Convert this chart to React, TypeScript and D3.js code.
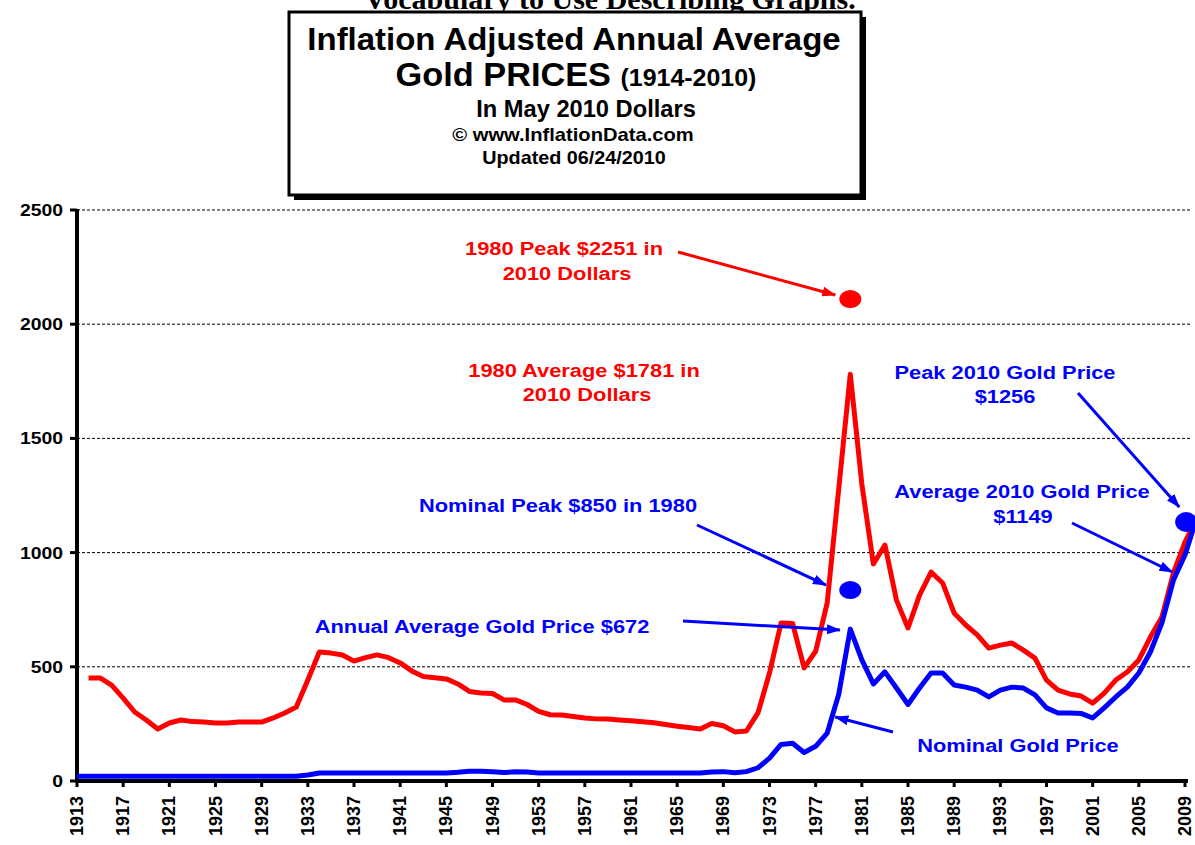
import React from 'react';
import * as d3 from 'd3';

// ── Data ─────────────────────────────────────────────────────────────
// Inflation adjusted annual average (May 2010 dollars), 1914–2010
const realYears = d3.range(1914, 2011);
const realValues = [
  451, 451, 420, 363, 302, 267, 228, 254, 267, 260, // 1914-1923
  258, 254, 254, 258, 258, 258, 276, 298, 324, 442, // 1924-1933
  565, 560, 552, 525, 540, 552, 540, 517, 482, 458, // 1934-1943
  452, 447, 425, 392, 385, 383, 355, 355, 335, 305, // 1944-1953
  290, 289, 282, 276, 272, 271, 267, 264, 259, 255, // 1954-1963
  247, 240, 234, 228, 252, 242, 215, 219, 298, 473, // 1964-1973
  692, 690, 495, 568, 780, 1280, 1781, 1300, 950, 1033, // 1974-1983
  792, 670, 814, 915, 867, 735, 683, 640, 582, 595, // 1984-1993
  604, 573, 538, 442, 398, 381, 372, 341, 385, 442, // 1994-2003
  477, 530, 630, 718, 911, 1046, 1149,              // 2004-2010
];

// Nominal annual average gold price, 1913–2010
const nominalYears = d3.range(1913, 2011);
const nominalValues = [
  20.67, 20.67, 20.67, 20.67, 20.67, 20.67, 20.67, 20.67, 20.67, 20.67, // 1913-1922
  20.67, 20.67, 20.67, 20.67, 20.67, 20.67, 20.67, 20.67, 20.67, 20.67, // 1923-1932
  26, 35, 35, 35, 35, 35, 35, 35, 35, 35,                               // 1933-1942
  35, 35, 35, 38, 43, 43, 40, 37, 40, 39,                               // 1943-1952
  35, 35, 35, 35, 35, 35, 35, 35, 35, 35,                               // 1953-1962
  35, 35, 35, 35, 35, 39, 41, 36, 41, 58,                               // 1963-1972
  100, 160, 165, 125, 152, 210, 380, 665, 530, 425,                     // 1973-1982
  478, 407, 335, 407, 473, 473, 420, 411, 398, 368,                     // 1983-1992
  398, 411, 407, 377, 320, 298, 298, 296, 276, 320,                     // 1993-2002
  368, 411, 473, 565, 692, 880, 990, 1149,                              // 2003-2010
];

const yTicks = [0, 500, 1000, 1500, 2000, 2500];
const xTickYears = d3.range(1913, 2010, 4);

// annotation markers [year, value]
const realPeakDot: [number, number] = [1980, 2110];
const nominalPeakDot: [number, number] = [1980, 836];
const peak2010Dot: [number, number] = [2009.1, 1134];

// arrow tips in data space [year, value]
const arrowTips = {
  realPeak: [1978.7, 2128],
  nominalPeak: [1977.9, 858],
  annualAvg: [1979.1, 661],
  nominalLine: [1978.7, 280],
  peak2010: [2008.5, 1200],
  avg2010: [2007.9, 915],
};

const FONT = '"Liberation Sans", Arial, Helvetica, sans-serif';
const RED = '#ff0000';
const BLUE = '#0000ff';

// horizontally stretched bold label, like the original picture
const Label = ({ x, y, text, color = '#000', size = 19, anchor = 'middle', sx = 1.15 }: any) => (
  <g transform={`translate(${x},${y}) scale(${sx},1)`}>
    <text textAnchor={anchor} fontFamily={FONT} fontWeight="bold" fontSize={size} fill={color}>
      {text}
    </text>
  </g>
);

export default function App() {
  const width = 1195;
  const height = 845;

  const x = d3.scaleLinear().domain([1913, 2009]).range([77, 1185]);
  const y = d3.scaleLinear().domain([0, 2500]).range([781, 210]);

  const line = d3
    .line<[number, number]>()
    .x((d) => x(d[0]))
    .y((d) => y(d[1]));

  const realPath = line(realYears.map((yr, i) => [yr, realValues[i]]));
  const nominalPath = line(nominalYears.map((yr, i) => [yr, nominalValues[i]]));

  const arrow = (from: [number, number], tip: number[], color: string, id: string) => (
    <line
      x1={from[0]}
      y1={from[1]}
      x2={x(tip[0])}
      y2={y(tip[1])}
      stroke={color}
      strokeWidth={3}
      markerEnd={`url(#${id})`}
    />
  );

  return (
    <svg
      width={width}
      height={height}
      style={{ position: 'absolute', left: 0, top: 0, background: '#fff' }}
    >
      <defs>
        {[
          ['headRed', RED],
          ['headBlue', BLUE],
        ].map(([id, c]) => (
          <marker
            key={id}
            id={id}
            markerUnits="userSpaceOnUse"
            viewBox="0 0 14 10"
            refX={13}
            refY={5}
            markerWidth={14}
            markerHeight={10}
            orient="auto"
          >
            <path d="M0,0 L14,5 L0,10 z" fill={c} />
          </marker>
        ))}
        <clipPath id="page">
          <rect x={0} y={0} width={width} height={height} />
        </clipPath>
      </defs>

      {/* heading of the page above, cut by the top edge as in the original */}
      <text
        x={610}
        y={9}
        textAnchor="middle"
        fontFamily='"Liberation Serif", "Times New Roman", serif'
        fontWeight="bold"
        fontSize={30}
      >
        Vocabulary to Use Describing Graphs.
      </text>

      {/* title box */}
      <rect x={294} y={17} width={572} height={183} fill="#000" />
      <rect x={289} y={12} width={572} height={183} fill="#fff" stroke="#000" strokeWidth={3} />
      <Label x={574} y={50} text="Inflation Adjusted Annual Average" size={32} sx={1.03} />
      <g transform="translate(576,86) scale(1.04,1)">
        <text textAnchor="middle" fontFamily={FONT} fontWeight="bold" fontSize={33}>
          Gold PRICES <tspan fontSize={24}>(1914-2010)</tspan>
        </text>
      </g>
      <Label x={586} y={117} text="In May 2010 Dollars" size={23} sx={1.03} />
      <Label x={573} y={141} text="© www.InflationData.com" size={18} sx={1.12} />
      <Label x={574} y={164} text="Updated 06/24/2010" size={18} sx={1.1} />

      {/* grid */}
      {yTicks
        .filter((t) => t > 0)
        .map((t) => (
          <line
            key={t}
            x1={x(1913)}
            x2={1192}
            y1={y(t)}
            y2={y(t)}
            stroke="#000"
            strokeWidth={1}
            strokeDasharray="3,2"
          />
        ))}

      {/* y axis */}
      <line x1={x(1913)} x2={x(1913)} y1={y(2500) - 1} y2={y(0) + 2} stroke="#000" strokeWidth={4} />
      {yTicks.map((t) => (
        <g key={t}>
          <line x1={x(1913) - 7} x2={x(1913)} y1={y(t)} y2={y(t)} stroke="#000" strokeWidth={3} />
          <Label x={63} y={y(t) + 6} text={String(t)} size={17} anchor="end" sx={1.14} />
        </g>
      ))}

      {/* data lines */}
      <g clipPath="url(#page)">
        <path d={realPath ?? ''} fill="none" stroke={RED} strokeWidth={5} strokeLinejoin="round" />
        <path d={nominalPath ?? ''} fill="none" stroke={BLUE} strokeWidth={5} strokeLinejoin="round" />
      </g>

      {/* x axis */}
      <line x1={x(1913) - 2} x2={x(2009) + 3} y1={y(0)} y2={y(0)} stroke="#000" strokeWidth={4} />
      {xTickYears.map((yr) => (
        <g key={yr}>
          <line x1={x(yr)} x2={x(yr)} y1={y(0)} y2={y(0) + 6} stroke="#000" strokeWidth={3} />
          <text
            transform={`translate(${x(yr) + 6},${y(0) + 15}) rotate(-90)`}
            textAnchor="end"
            fontFamily={FONT}
            fontWeight="bold"
            fontSize={18}
          >
            {yr}
          </text>
        </g>
      ))}

      {/* annotation dots */}
      <ellipse cx={x(realPeakDot[0])} cy={y(realPeakDot[1])} rx={11} ry={9} fill={RED} />
      <ellipse cx={x(nominalPeakDot[0])} cy={y(nominalPeakDot[1])} rx={11} ry={9} fill={BLUE} />
      <ellipse cx={x(peak2010Dot[0])} cy={y(peak2010Dot[1])} rx={11} ry={10} fill={BLUE} />

      {/* arrows */}
      {arrow([678, 252], arrowTips.realPeak, RED, 'headRed')}
      {arrow([697, 525], arrowTips.nominalPeak, BLUE, 'headBlue')}
      {arrow([683, 621], arrowTips.annualAvg, BLUE, 'headBlue')}
      {arrow([893, 732], arrowTips.nominalLine, BLUE, 'headBlue')}
      {arrow([1078, 393], arrowTips.peak2010, BLUE, 'headBlue')}
      {arrow([1072, 523], arrowTips.avg2010, BLUE, 'headBlue')}

      {/* annotation text */}
      <Label x={564} y={255} text="1980 Peak $2251 in" color={RED} />
      <Label x={567} y={280} text="2010 Dollars" color={RED} />
      <Label x={584} y={377} text="1980 Average $1781 in" color={RED} />
      <Label x={587} y={401} text="2010 Dollars" color={RED} />
      <Label x={1005} y={379} text="Peak 2010 Gold Price" color={BLUE} />
      <Label x={1005} y={403} text="$1256" color={BLUE} />
      <Label x={1022} y={498} text="Average 2010 Gold Price" color={BLUE} />
      <Label x={1023} y={523} text="$1149" color={BLUE} />
      <Label x={558} y={512} text="Nominal Peak $850 in 1980" color={BLUE} />
      <Label x={482} y={633} text="Annual Average Gold Price $672" color={BLUE} />
      <Label x={1018} y={752} text="Nominal Gold Price" color={BLUE} />
    </svg>
  );
}
